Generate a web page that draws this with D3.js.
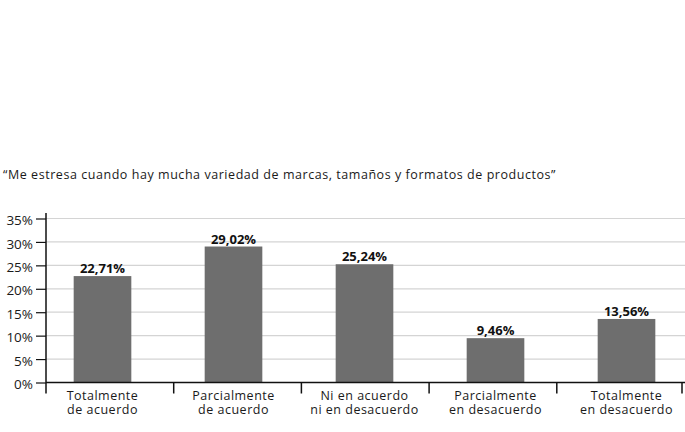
<!DOCTYPE html>
<html>
<head>
<meta charset="utf-8">
<script src="https://cdn.jsdelivr.net/npm/d3@7/dist/d3.min.js"></script>
<style>
  html, body { margin: 0; padding: 0; background: #fff; }
  svg { display: block; font-family: "Open Sans", sans-serif; }
</style>
</head>
<body>
<svg id="chart" width="685" height="432"></svg>
<script>
const title = "\u201CMe estresa cuando hay mucha variedad de marcas, tamaños y formatos de productos\u201D";
const categories = [
  ["Totalmente", "de acuerdo"],
  ["Parcialmente", "de acuerdo"],
  ["Ni en acuerdo", "ni en desacuerdo"],
  ["Parcialmente", "en desacuerdo"],
  ["Totalmente", "en desacuerdo"],
];
const values = [22.71, 29.02, 25.24, 9.46, 13.56];
const valueLabels = ["22,71%", "29,02%", "25,24%", "9,46%", "13,56%"];
const yTicks = [0, 5, 10, 15, 20, 25, 30, 35];

const svg = d3.select("#chart");
const plotLeft = 46, plotRight = 684.5, plotTop = 213, plotBottom = 382.5;

const keys = categories.map((d, i) => i);

// bars and labels sit on a slightly wider band than the separator ticks
const x = d3.scaleBand().domain(keys).range([37, 692]).paddingInner(0.56).paddingOuter(0.28);
const sep = d3.scaleBand().domain(keys).range([plotLeft, plotRight]);
const y = d3.scaleLinear().domain([0, 35]).range([plotBottom, 218.5]);

svg.append("text")
  .attr("x", 3)
  .attr("y", 179)
  .attr("font-size", 12.5)
  .attr("letter-spacing", 0.55)
  .attr("fill", "#1a1a1a")
  .text(title);

// gridlines
svg.append("g")
  .selectAll("line")
  .data(yTicks.filter(d => d > 0))
  .join("line")
  .attr("x1", plotLeft).attr("x2", plotRight + 1)
  .attr("y1", d => y(d)).attr("y2", d => y(d))
  .attr("stroke", "#d4d4d4")
  .attr("stroke-width", 1.2);

// bars
svg.append("g")
  .selectAll("rect")
  .data(values)
  .join("rect")
  .attr("x", (d, i) => x(i))
  .attr("width", x.bandwidth())
  .attr("y", d => y(d))
  .attr("height", d => y(0) - y(d))
  .attr("fill", "#6e6e6e");

svg.append("g")
  .selectAll("text")
  .data(values)
  .join("text")
  .attr("x", (d, i) => x(i) + x.bandwidth() / 2)
  .attr("y", d => y(d) - 3)
  .attr("text-anchor", "middle")
  .attr("font-size", 13)
  .attr("font-weight", 700)
  .attr("fill", "#111")
  .text((d, i) => valueLabels[i]);

// y axis
const yAxis = svg.append("g")
  .attr("transform", `translate(${plotLeft},0)`)
  .call(d3.axisLeft(y).tickValues(yTicks).tickSize(10).tickPadding(3).tickFormat(d => d + "%"));
yAxis.select(".domain").attr("d", `M0,${plotTop}V${plotBottom + 11}`).attr("stroke", "#111").attr("stroke-width", 1.5);
yAxis.selectAll(".tick line").attr("stroke", "#111").attr("stroke-width", 1.2);
yAxis.selectAll(".tick text")
  .attr("font-family", "Open Sans, sans-serif")
  .attr("font-size", 13.5)
  .attr("fill", "#1a1a1a")
  .attr("dy", "0.45em");

// x axis baseline and separator ticks
const xAxis = svg.append("g").attr("transform", `translate(0,${plotBottom})`);
xAxis.append("line")
  .attr("x1", plotLeft).attr("x2", 685)
  .attr("stroke", "#111").attr("stroke-width", 1.5);
xAxis.selectAll(".sep")
  .data(keys.slice(1).map(k => sep(k)).concat([plotRight - 2.5]))
  .join("line")
  .attr("class", "sep")
  .attr("x1", d => d).attr("x2", d => d)
  .attr("y1", 0).attr("y2", 11)
  .attr("stroke", "#111").attr("stroke-width", 1.5);

// category labels
const cat = xAxis.selectAll(".cat")
  .data(categories)
  .join("text")
  .attr("class", "cat")
  .attr("x", (d, i) => x(i) + x.bandwidth() / 2)
  .attr("y", 17)
  .attr("text-anchor", "middle")
  .attr("font-size", 12.5)
  .attr("letter-spacing", 0.5)
  .attr("fill", "#1a1a1a");
cat.selectAll("tspan")
  .data(d => d)
  .join("tspan")
  .attr("x", function () { return this.parentNode.getAttribute("x"); })
  .attr("dy", (d, i) => i === 0 ? 0 : 14.7)
  .text(d => d);
</script>
</body>
</html>
